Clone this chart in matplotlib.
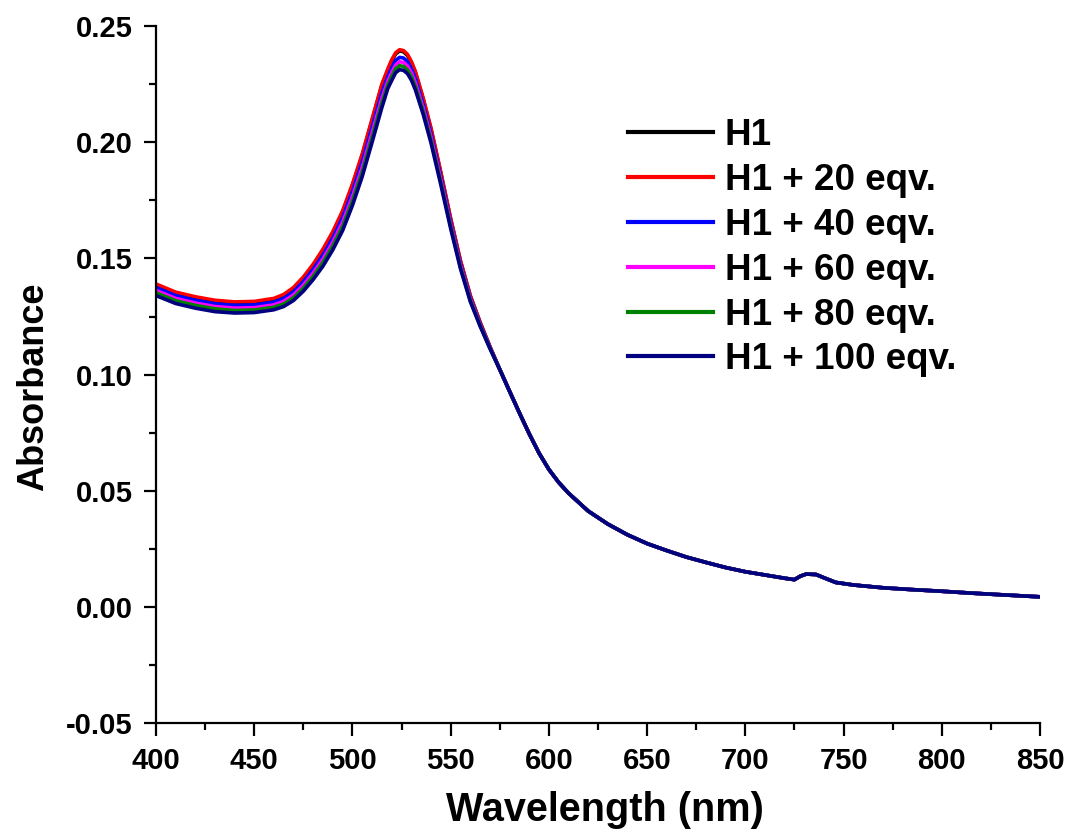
import numpy as np
import matplotlib
matplotlib.use('Agg')
import matplotlib.pyplot as plt
from matplotlib.ticker import MultipleLocator, FormatStrFormatter

plt.rcParams['font.family'] = ['Liberation Sans', 'DejaVu Sans']
plt.rcParams['font.weight'] = 'bold'

# wavelength grid for the plasmon band region (nm), series differ here
wl_head = [400, 410, 420, 430, 440, 450, 460, 465, 470, 475, 480, 485, 490, 495,
           500, 505, 510, 515, 518, 520, 522, 524, 526, 528, 530, 532, 536, 540,
           545, 550, 555, 560, 565, 570]

h1 = [0.1385, 0.1350, 0.1330, 0.1315, 0.1308, 0.1310, 0.1323, 0.1340, 0.1370,
      0.1415, 0.1470, 0.1535, 0.1610, 0.1700, 0.1815, 0.1945, 0.2095, 0.2245,
      0.2310, 0.2350, 0.2380, 0.2393, 0.2389, 0.2373, 0.2342, 0.2300, 0.2185,
      0.2055, 0.1866, 0.1668, 0.1487, 0.1338, 0.1224, 0.1120]
h1_20 = [0.1390, 0.1355, 0.1335, 0.1320, 0.1313, 0.1315, 0.1328, 0.1345, 0.1375,
         0.1420, 0.1475, 0.1540, 0.1615, 0.1705, 0.1820, 0.1950, 0.2100, 0.2250,
         0.2315, 0.2355, 0.2385, 0.2398, 0.2394, 0.2378, 0.2347, 0.2305, 0.2190,
         0.2060, 0.1870, 0.1672, 0.1490, 0.1340, 0.1225, 0.1120]
h1_40 = [0.1375, 0.1340, 0.1320, 0.1305, 0.1298, 0.1300, 0.1312, 0.1328, 0.1357,
         0.1400, 0.1453, 0.1515, 0.1588, 0.1676, 0.1788, 0.1916, 0.2064, 0.2213,
         0.2282, 0.2320, 0.2352, 0.2365, 0.2362, 0.2347, 0.2316, 0.2275, 0.2163,
         0.2035, 0.1850, 0.1656, 0.1477, 0.1330, 0.1218, 0.1117]
h1_60 = [0.1362, 0.1328, 0.1308, 0.1293, 0.1286, 0.1288, 0.1300, 0.1315, 0.1343,
         0.1385, 0.1437, 0.1498, 0.1570, 0.1656, 0.1766, 0.1893, 0.2041, 0.2190,
         0.2263, 0.2300, 0.2332, 0.2346, 0.2343, 0.2328, 0.2298, 0.2257, 0.2147,
         0.2021, 0.1838, 0.1646, 0.1469, 0.1324, 0.1214, 0.1115]
h1_80 = [0.1352, 0.1318, 0.1298, 0.1283, 0.1276, 0.1278, 0.1290, 0.1304, 0.1331,
         0.1372, 0.1423, 0.1483, 0.1554, 0.1638, 0.1747, 0.1873, 0.2021, 0.2170,
         0.2247, 0.2283, 0.2316, 0.2329, 0.2326, 0.2311, 0.2282, 0.2241, 0.2133,
         0.2008, 0.1827, 0.1637, 0.1462, 0.1319, 0.1211, 0.1113]
h1_100 = [0.1340, 0.1306, 0.1286, 0.1271, 0.1265, 0.1267, 0.1279, 0.1293, 0.1319,
          0.1359, 0.1409, 0.1467, 0.1537, 0.1620, 0.1728, 0.1853, 0.2000, 0.2150,
          0.2231, 0.2266, 0.2299, 0.2312, 0.2309, 0.2295, 0.2267, 0.2226, 0.2120,
          0.1996, 0.1816, 0.1628, 0.1455, 0.1314, 0.1208, 0.1112]

# long-wavelength tail, all spectra overlap here
wl_tail = [575, 580, 585, 590, 595, 600, 605, 610, 620, 630, 640, 650, 660, 670,
           680, 690, 700, 710, 720, 725, 728, 731, 736, 740, 746, 755, 770, 785,
           800, 815, 830, 850]
tail = [0.1022, 0.0928, 0.0835, 0.0745, 0.0662, 0.0592, 0.0536, 0.0490, 0.0413,
        0.0357, 0.0311, 0.0273, 0.0243, 0.0215, 0.0192, 0.0170, 0.0152, 0.0138,
        0.0124, 0.0118, 0.0133, 0.0142, 0.0140, 0.0126, 0.0106, 0.0095, 0.0083,
        0.0075, 0.0068, 0.0060, 0.0053, 0.0044]

labels = ['H1', 'H1 + 20 eqv.', 'H1 + 40 eqv.', 'H1 + 60 eqv.', 'H1 + 80 eqv.',
          'H1 + 100 eqv.']
series = [h1, h1_20, h1_40, h1_60, h1_80, h1_100]
colors = ['#000000', '#ff0000', '#0000ff', '#ff00ff', '#008000', '#000080']

wl = np.array(wl_head + wl_tail)

fig = plt.figure(figsize=(10.70, 8.38), dpi=100)
ax = fig.add_axes([0.1458, 0.1369, 0.8262, 0.8321])

for ys, c, lab in zip(series, colors, labels):
    ax.plot(wl, np.array(ys + tail), color=c, lw=2.6, label=lab)

ax.set_xlim(400, 850)
ax.set_ylim(-0.05, 0.25)
ax.xaxis.set_major_locator(MultipleLocator(50))
ax.xaxis.set_minor_locator(MultipleLocator(25))
ax.yaxis.set_major_locator(MultipleLocator(0.05))
ax.yaxis.set_minor_locator(MultipleLocator(0.025))
ax.yaxis.set_major_formatter(FormatStrFormatter('%.2f'))

ax.spines['top'].set_visible(False)
ax.spines['right'].set_visible(False)
for s in ['left', 'bottom']:
    ax.spines[s].set_linewidth(1.6)
ax.tick_params(which='major', direction='out', length=9, width=1.6,
               labelsize=21, pad=8)
ax.tick_params(which='minor', direction='out', length=5, width=1.6)

ax.set_xlabel('Wavelength (nm)', fontsize=28.5, fontweight='bold')
ax.set_ylabel('Absorbance', fontsize=26, fontweight='bold')
ax.xaxis.set_label_coords(0.508, -0.097)
ax.yaxis.set_label_coords(-0.119, 0.483)

leg = ax.legend(loc='upper left', bbox_to_anchor=(0.534, 0.8675), frameon=False,
                fontsize=26.5, handlelength=2.3, handletextpad=0.32,
                labelspacing=0.266, borderpad=0, borderaxespad=0)
for t in leg.get_texts():
    t.set_fontweight('bold')
for h in leg.get_lines():
    h.set_linewidth(3)

fig.savefig('out.png', dpi=100)
